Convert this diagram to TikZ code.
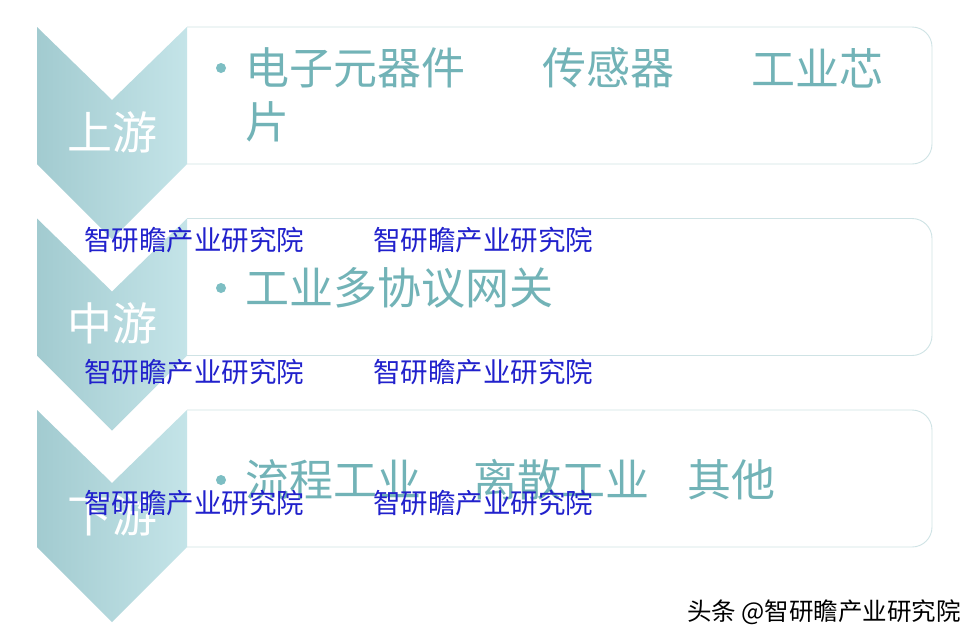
\documentclass[tikz,border=0pt]{standalone}
\usepackage{fontspec}
\newfontfamily\cjk{Noto Sans CJK SC}
\definecolor{chevL}{HTML}{A2CBD0}
\definecolor{chevR}{HTML}{C4E4E8}
\definecolor{boxline}{HTML}{CFE3E5}
\definecolor{bodytxt}{HTML}{72B3B7}
\definecolor{bullet}{HTML}{7DBEC3}
\definecolor{wm}{HTML}{2121CC}
\tikzset{
  chev/.style={shading=axis,left color=chevL,right color=chevR,shading angle=90},
  panel/.style={draw=boxline,line width=0.9pt,fill=white,rounded corners=20pt},
  body/.style={font=\cjk\fontsize{44}{46}\selectfont,text=bodytxt,anchor=west,inner sep=0pt},
  lab/.style={font=\cjk\fontsize{45}{47}\selectfont,text=white,inner sep=0pt},
  dot/.style={circle,fill=bullet,minimum size=10pt,inner sep=0pt},
  wmark/.style={font=\cjk\fontsize{27.5}{29}\selectfont,text=wm,anchor=west,inner sep=0pt},
  foot/.style={font=\cjk\fontsize{24.5}{26}\selectfont,text=black,anchor=east,inner sep=0pt}
}
\begin{document}
\begin{tikzpicture}[x=1pt,y=-1pt]
\useasboundingbox[fill=white] (0,0) rectangle (979,643);
% panels
\foreach \t in {27,218.5,410}{
  \draw[panel] (187,\t) -- (932,\t) -- (932,\t+137) -- (187,\t+137);
}
% chevrons
\foreach \t in {27,218.5,410}{
  \path[chev] (37,\t) -- (112,\t+73) -- (187,\t) -- (187,\t+137) -- (112,\t+212) -- (37,\t+137) -- cycle;
}
% chevron labels
\node[lab] (l1) at (112,132) {上游};
\node[lab] (l2) at (112,323) {中游};
\node[lab] (l3) at (112,515) {下游};
% row 1
\node[dot] (b1) at (221,68) {};
\node[body] (t1a) at (245,68) {电子元器件};
\node[body] (t1b) at (542,68) {传感器};
\node[body] (t1c) at (751,68) {工业芯};
\node[body] (t1d) at (245,122) {片};
% row 2
\node[dot] (b2) at (221,288) {};
\node[body] (t2a) at (245,288) {工业多协议网关};
% row 3
\node[dot] (b3) at (221,480) {};
\node[body] (t3a) at (245,480) {流程工业};
\node[body] (t3b) at (473,480) {离散工业};
\node[body] (t3c) at (687,480) {其他};
% watermarks
\node[wmark] (w1) at (84,240) {智研瞻产业研究院};
\node[wmark] (w2) at (373,240) {智研瞻产业研究院};
\node[wmark] (w3) at (84,372) {智研瞻产业研究院};
\node[wmark] (w4) at (373,372) {智研瞻产业研究院};
\node[wmark] (w5) at (84,503) {智研瞻产业研究院};
\node[wmark] (w6) at (373,503) {智研瞻产业研究院};
% footer
\node[foot] (f) at (961,612) {头条 @智研瞻产业研究院};
\end{tikzpicture}
\end{document}
